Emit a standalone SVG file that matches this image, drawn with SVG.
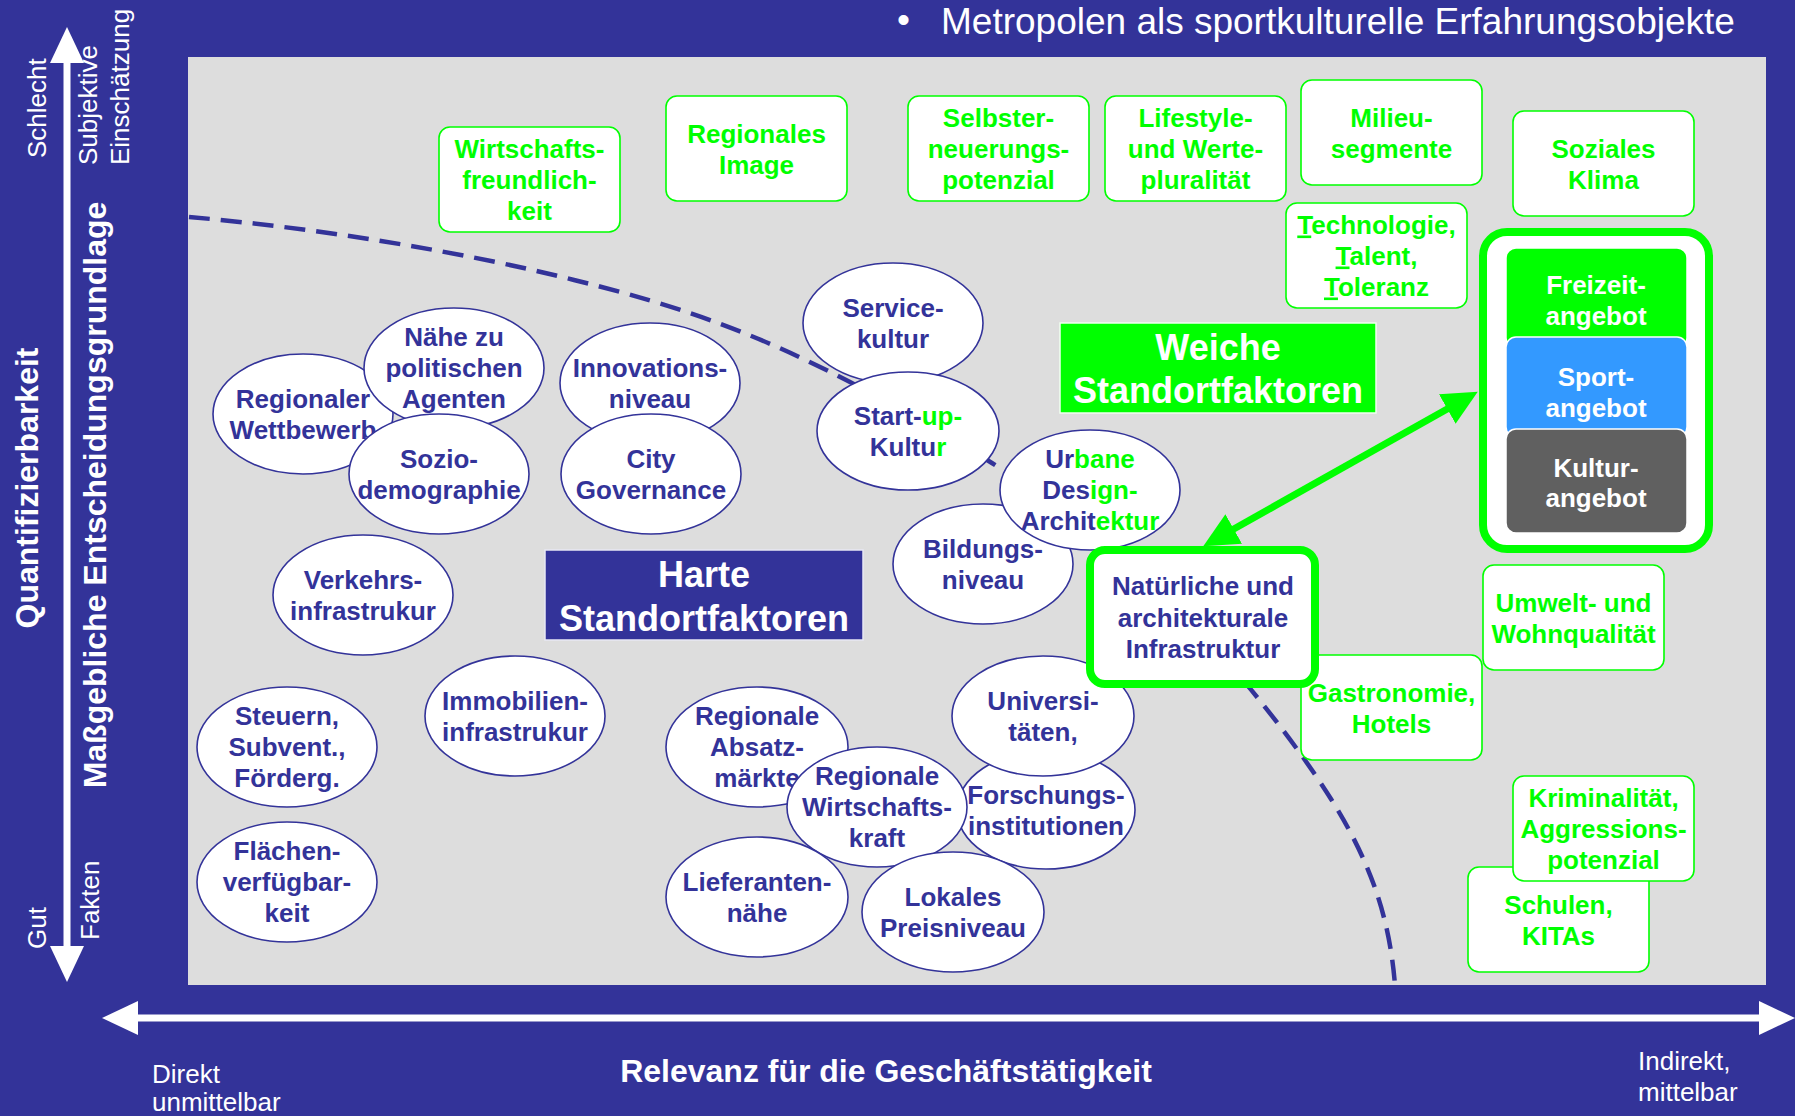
<svg xmlns="http://www.w3.org/2000/svg" width="1795" height="1116" viewBox="0 0 1795 1116">
<style>
text{font-family:"Liberation Sans",Arial,Helvetica,sans-serif;}
.n{font-weight:bold;font-size:26px;text-anchor:middle;}
.big{font-weight:bold;font-size:36px;text-anchor:middle;fill:#fff;}
.b{fill:#333399;}
.g{fill:#00ff00;}
.w{fill:#fff;}
.ell{fill:#fff;stroke:#333399;stroke-width:1.6;}
.box{fill:#fff;stroke:#00ff00;stroke-width:1.6;}
.lab{fill:#fff;font-size:26px;}
.labb{fill:#fff;font-size:32px;font-weight:bold;text-anchor:middle;}
.u{text-decoration:underline;}
</style>
<defs>
<marker id="wh" markerUnits="userSpaceOnUse" viewBox="0 0 36 34" markerWidth="36" markerHeight="34" refX="1" refY="17" orient="auto-start-reverse"><path d="M0,0 L36,17 L0,34 z" fill="#fff"/></marker>
<marker id="gh" markerUnits="userSpaceOnUse" viewBox="0 0 35 34" markerWidth="35" markerHeight="34" refX="2" refY="17" orient="auto-start-reverse"><path d="M0,0 L35,17 L0,34 z" fill="#00ff00"/></marker>
</defs>
<rect x="0" y="0" width="1795" height="1116" fill="#333399"/>
<rect x="188" y="57" width="1578" height="928" fill="#dddddd"/>
<g id="title">
<text x="897" y="32" fill="#fff" font-size="37">•</text>
<text x="941" y="34" fill="#fff" font-size="37">Metropolen als sportkulturelle Erfahrungsobjekte</text>
</g>
<g id="axes">
<line x1="67" y1="947" x2="67" y2="62" stroke="#fff" stroke-width="7" marker-start="url(#wh)" marker-end="url(#wh)"/>
<line x1="137" y1="1018" x2="1760" y2="1018" stroke="#fff" stroke-width="7" marker-start="url(#wh)" marker-end="url(#wh)"/>
<text class="lab" transform="translate(46,158) rotate(-90)">Schlecht</text>
<text class="lab" transform="translate(97,165) rotate(-90)">Subjektive</text>
<text class="lab" transform="translate(129,165) rotate(-90)">Einschätzung</text>
<text class="lab" transform="translate(46,949) rotate(-90)">Gut</text>
<text class="lab" transform="translate(99,940) rotate(-90)">Fakten</text>
<text class="labb" transform="translate(38,488) rotate(-90)">Quantifizierbarkeit</text>
<text class="labb" transform="translate(106,495) rotate(-90)">Maßgebliche Entscheidungsgrundlage</text>
<text class="lab" x="152" y="1083">Direkt</text>
<text class="lab" x="152" y="1111">unmittelbar</text>
<text class="lab" x="1638" y="1070">Indirekt,</text>
<text class="lab" x="1638" y="1101">mittelbar</text>
<text class="labb" x="886" y="1082">Relevanz für die Geschäftstätigkeit</text>
</g>
<g id="connectors">
<path d="M189,217 C317,228 464,252 574,280 C684,307 757,334 850,382 C943,430 1050,495 1130,562 C1210,634 1287,729 1331,799 C1375,869 1390,925 1395,985" fill="none" stroke="#333399" stroke-width="4.5" stroke-dasharray="21 11"/>
<line x1="1232" y1="530" x2="1449" y2="408" stroke="#00ff00" stroke-width="7" marker-start="url(#gh)" marker-end="url(#gh)"/>
</g>
<g id="n-wirtschaftsfreundlichkeit"><rect class="box" x="439" y="127" width="181" height="105" rx="11"/><text class="n g"><tspan x="529.5" y="157.5">Wirtschafts-</tspan><tspan x="529.5" y="188.5">freundlich-</tspan><tspan x="529.5" y="219.5">keit</tspan></text></g>
<g id="n-regionales-image"><rect class="box" x="666" y="96" width="181" height="105" rx="11"/><text class="n g"><tspan x="756.5" y="142.5">Regionales</tspan><tspan x="756.5" y="173.5">Image</tspan></text></g>
<g id="n-selbsterneuerung"><rect class="box" x="908" y="96" width="181" height="105" rx="11"/><text class="n g"><tspan x="998.5" y="126.5">Selbster-</tspan><tspan x="998.5" y="157.5">neuerungs-</tspan><tspan x="998.5" y="188.5">potenzial</tspan></text></g>
<g id="n-lifestyle"><rect class="box" x="1105" y="96" width="181" height="105" rx="11"/><text class="n g"><tspan x="1195.5" y="126.5">Lifestyle-</tspan><tspan x="1195.5" y="157.5">und Werte-</tspan><tspan x="1195.5" y="188.5">pluralität</tspan></text></g>
<g id="n-milieu"><rect class="box" x="1301" y="80" width="181" height="105" rx="11"/><text class="n g"><tspan x="1391.5" y="126.5">Milieu-</tspan><tspan x="1391.5" y="157.5">segmente</tspan></text></g>
<g id="n-soziales-klima"><rect class="box" x="1513" y="111" width="181" height="105" rx="11"/><text class="n g"><tspan x="1603.5" y="157.5">Soziales</tspan><tspan x="1603.5" y="188.5">Klima</tspan></text></g>
<g id="n-technologie"><rect class="box" x="1286" y="203" width="181" height="105" rx="11"/><text class="n g"><tspan x="1376.5" y="233.5"><tspan class="u">T</tspan>echnologie,</tspan><tspan x="1376.5" y="264.5"><tspan class="u">T</tspan>alent,</tspan><tspan x="1376.5" y="295.5"><tspan class="u">T</tspan>oleranz</tspan></text></g>
<g id="n-umwelt"><rect class="box" x="1483" y="565" width="181" height="105" rx="11"/><text class="n g"><tspan x="1573.5" y="611.5">Umwelt- und</tspan><tspan x="1573.5" y="642.5">Wohnqualität</tspan></text></g>
<g id="n-gastronomie"><rect class="box" x="1301" y="655" width="181" height="105" rx="11"/><text class="n g"><tspan x="1391.5" y="701.5">Gastronomie,</tspan><tspan x="1391.5" y="732.5">Hotels</tspan></text></g>
<g id="n-schulen"><rect class="box" x="1468" y="867" width="181" height="105" rx="11"/><text class="n g"><tspan x="1558.5" y="913.5">Schulen,</tspan><tspan x="1558.5" y="944.5">KITAs</tspan></text></g>
<g id="n-kriminalitaet"><rect class="box" x="1513" y="776" width="181" height="105" rx="11"/><text class="n g"><tspan x="1603.5" y="806.5">Kriminalität,</tspan><tspan x="1603.5" y="837.5">Aggressions-</tspan><tspan x="1603.5" y="868.5">potenzial</tspan></text></g>
<g id="n-regionaler-wettbewerb"><ellipse class="ell" cx="303" cy="414" rx="90" ry="60"/><text class="n b"><tspan x="303" y="408">Regionaler</tspan><tspan x="303" y="439">Wettbewerb</tspan></text></g>
<g id="n-naehe"><ellipse class="ell" cx="454" cy="368" rx="90" ry="60"/><text class="n b"><tspan x="454" y="346">Nähe zu</tspan><tspan x="454" y="377">politischen</tspan><tspan x="454" y="408">Agenten</tspan></text></g>
<g id="n-sozio"><ellipse class="ell" cx="439" cy="474" rx="90" ry="60"/><text class="n b"><tspan x="439" y="468">Sozio-</tspan><tspan x="439" y="499">demographie</tspan></text></g>
<g id="n-innovation"><ellipse class="ell" cx="650" cy="383" rx="90" ry="60"/><text class="n b"><tspan x="650" y="377">Innovations-</tspan><tspan x="650" y="408">niveau</tspan></text></g>
<g id="n-city"><ellipse class="ell" cx="651" cy="474" rx="90" ry="60"/><text class="n b"><tspan x="651" y="468">City</tspan><tspan x="651" y="499">Governance</tspan></text></g>
<g id="n-service"><ellipse class="ell" cx="893" cy="323" rx="90" ry="60"/><text class="n b"><tspan x="893" y="317">Service-</tspan><tspan x="893" y="348">kultur</tspan></text></g>
<g id="n-startup"><ellipse class="ell" cx="908" cy="431" rx="91" ry="59"/><text class="n b"><tspan x="908" y="425">Start-<tspan class="g">up-</tspan></tspan><tspan x="908" y="456">Kultu<tspan class="g">r</tspan></tspan></text></g>
<g id="n-bildung"><ellipse class="ell" cx="983" cy="564" rx="90" ry="60"/><text class="n b"><tspan x="983" y="558">Bildungs-</tspan><tspan x="983" y="589">niveau</tspan></text></g>
<g id="n-urbane"><ellipse class="ell" cx="1090" cy="490" rx="90" ry="60"/><text class="n b"><tspan x="1090" y="468">Ur<tspan class="g">bane</tspan></tspan><tspan x="1090" y="499">Des<tspan class="g">ign-</tspan></tspan><tspan x="1090" y="530">Archit<tspan class="g">ektur</tspan></tspan></text></g>
<g id="n-verkehr"><ellipse class="ell" cx="363" cy="595" rx="90" ry="60"/><text class="n b"><tspan x="363" y="589">Verkehrs-</tspan><tspan x="363" y="620">infrastrukur</tspan></text></g>
<g id="n-steuern"><ellipse class="ell" cx="287" cy="747" rx="90" ry="60"/><text class="n b"><tspan x="287" y="725">Steuern,</tspan><tspan x="287" y="756">Subvent.,</tspan><tspan x="287" y="787">Förderg.</tspan></text></g>
<g id="n-immobilien"><ellipse class="ell" cx="515" cy="716" rx="90" ry="60"/><text class="n b"><tspan x="515" y="710">Immobilien-</tspan><tspan x="515" y="741">infrastrukur</tspan></text></g>
<g id="n-flaechen"><ellipse class="ell" cx="287" cy="882" rx="90" ry="60"/><text class="n b"><tspan x="287" y="860">Flächen-</tspan><tspan x="287" y="891">verfügbar-</tspan><tspan x="287" y="922">keit</tspan></text></g>
<g id="n-absatz"><ellipse class="ell" cx="757" cy="747" rx="91" ry="60"/><text class="n b"><tspan x="757" y="725">Regionale</tspan><tspan x="757" y="756">Absatz-</tspan><tspan x="757" y="787">märkte</tspan></text></g>
<g id="n-forschung"><ellipse class="ell" cx="1046" cy="810" rx="89" ry="59"/><text class="n b"><tspan x="1046" y="804">Forschungs-</tspan><tspan x="1046" y="835">institutionen</tspan></text></g>
<g id="n-universitaet"><ellipse class="ell" cx="1043" cy="716" rx="91" ry="60"/><text class="n b"><tspan x="1043" y="710">Universi-</tspan><tspan x="1043" y="741">täten,</tspan></text></g>
<g id="n-wirtschaftskraft"><ellipse class="ell" cx="877" cy="807" rx="90" ry="60"/><text class="n b"><tspan x="877" y="785">Regionale</tspan><tspan x="877" y="816">Wirtschafts-</tspan><tspan x="877" y="847">kraft</tspan></text></g>
<g id="n-lieferanten"><ellipse class="ell" cx="757" cy="897" rx="91" ry="60"/><text class="n b"><tspan x="757" y="891">Lieferanten-</tspan><tspan x="757" y="922">nähe</tspan></text></g>
<g id="n-lokales"><ellipse class="ell" cx="953" cy="912" rx="91" ry="60"/><text class="n b"><tspan x="953" y="906">Lokales</tspan><tspan x="953" y="937">Preisniveau</tspan></text></g>
<g id="n-harte"><rect x="545" y="550" width="318" height="90" fill="#333399" stroke="#e8e8f4" stroke-width="1.5"/><text class="big"><tspan x="704" y="587">Harte</tspan><tspan x="704" y="631">Standortfaktoren</tspan></text></g>
<g id="n-weiche"><rect x="1060" y="323" width="316" height="90" fill="#00ff00" stroke="#f0fff0" stroke-width="1.5"/><text class="big"><tspan x="1218" y="360">Weiche</tspan><tspan x="1218" y="403">Standortfaktoren</tspan></text></g>
<g id="n-natuerliche"><rect x="1090" y="550" width="225" height="134" rx="15" fill="#fff" stroke="#00ff00" stroke-width="8"/><text class="n b"><tspan x="1203" y="595">Natürliche und</tspan><tspan x="1203" y="627">architekturale</tspan><tspan x="1203" y="658">Infrastruktur</tspan></text></g>
<g id="n-angebote">
<rect x="1483" y="232" width="226" height="317" rx="24" fill="#fff" stroke="#00ff00" stroke-width="8"/>
<g id="n-freizeit"><rect x="1506" y="248" width="181" height="100" rx="10" fill="#00ff00" stroke="#fff" stroke-width="1.5"/><text class="n w"><tspan x="1596" y="294">Freizeit-</tspan><tspan x="1596" y="325">angebot</tspan></text></g>
<g id="n-sport"><rect x="1506" y="337" width="181" height="100" rx="10" fill="#3399ff" stroke="#fff" stroke-width="1.5"/><text class="n w"><tspan x="1596" y="386">Sport-</tspan><tspan x="1596" y="417">angebot</tspan></text></g>
<g id="n-kultur"><rect x="1506" y="429" width="181" height="104" rx="10" fill="#606060" stroke="#fff" stroke-width="1.5"/><text class="n w"><tspan x="1596" y="477">Kultur-</tspan><tspan x="1596" y="507">angebot</tspan></text></g>
</g>
</svg>
